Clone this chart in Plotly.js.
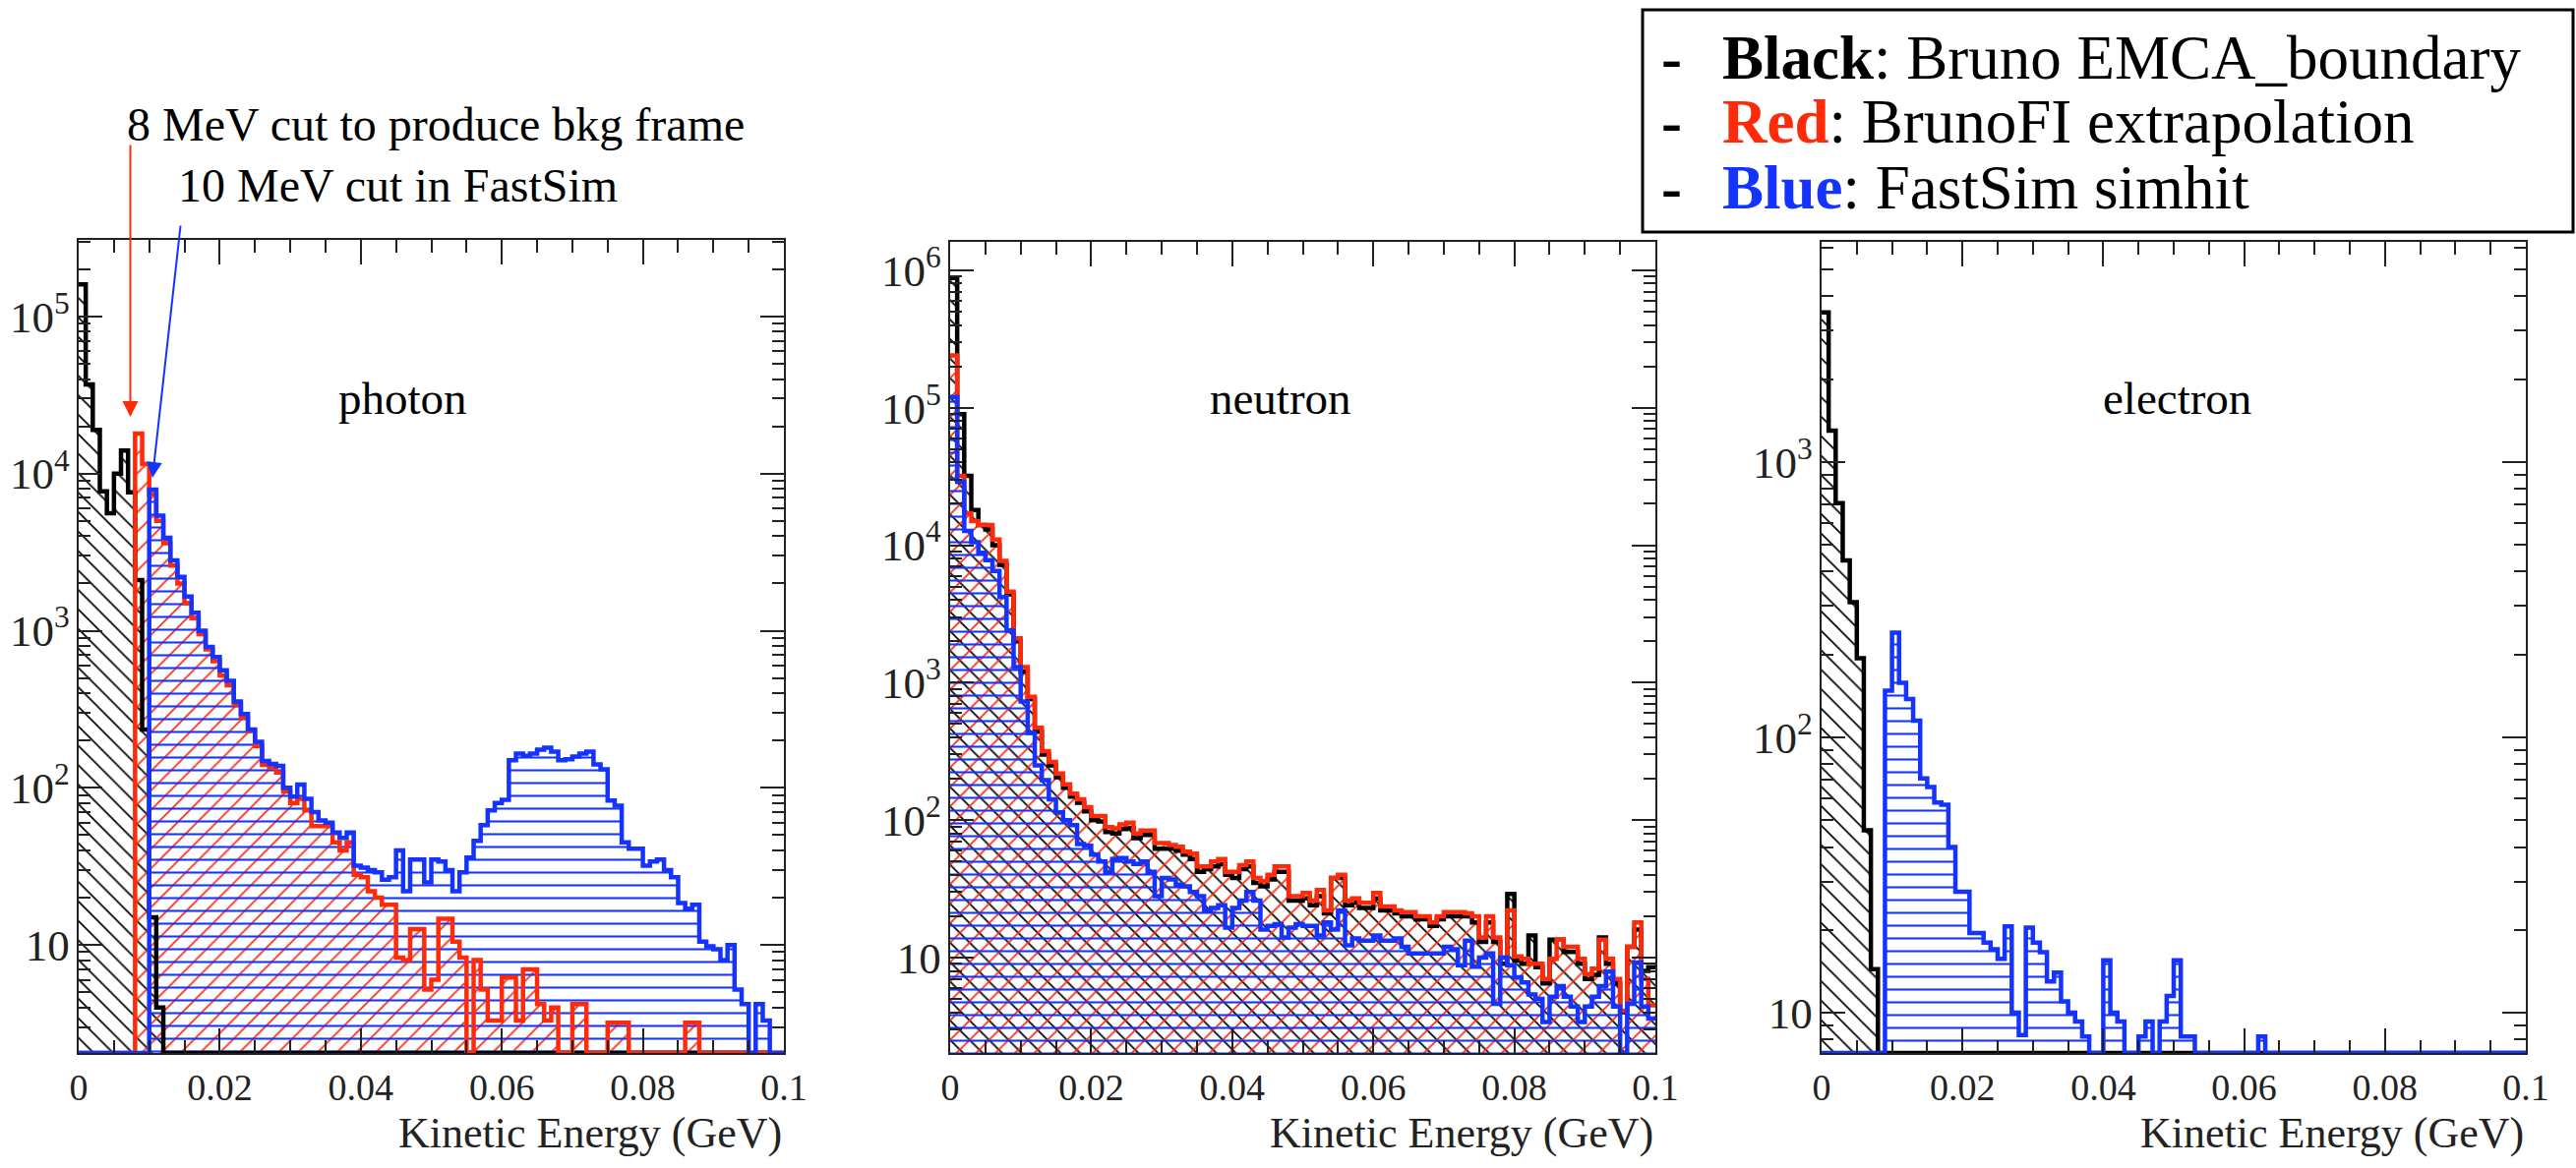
<!DOCTYPE html>
<html><head><meta charset="utf-8">
<script src="https://cdn.plot.ly/plotly-3.0.1.min.js"></script>
<style>html,body{margin:0;padding:0;background:#fff}#chart{width:2619px;height:1188px}</style>
</head><body><div id="chart"></div>
<script>
// ---- histogram binning (100 bins of 1 MeV from 0 to 0.1 GeV) ----
const nBins = 100;
const binWidth = 0.001;
const xTickVals = [0, 0.02, 0.04, 0.06, 0.08, 0.1];
const panelNames = ['photon', 'neutron', 'electron'];
const xTitle = 'Kinetic Energy (GeV)';
const legendLines = [
  {key: 'Black', rest: ': Bruno EMCA_boundary'},
  {key: 'Red', rest: ': BrunoFI extrapolation'},
  {key: 'Blue', rest: ': FastSim simhit'}
];
const cutNotes = ['8 MeV cut to produce bkg frame', '10 MeV cut in FastSim'];

// ---- photon ----
const photonBlack = [
  160000,37000,19000,7700,5600,10000,14000,7600,2100,235,
  15,4,0,0,0,0,0,0,0,0,
  0,0,0,0,0,0,0,0,0,0,
  0,0,0,0,0,0,0,0,0,0,
  0,0,0,0,0,0,0,0,0,0,
  0,0,0,0,0,0,0,0,0,0,
  0,0,0,0,0,0,0,0,0,0,
  0,0,0,0,0,0,0,0,0,0,
  0,0,0,0,0,0,0,0,0,0,
  0,0,0,0,0,0,0,0,0,0];
const photonRed = [
  0,0,0,0,0,0,0,0,18000,11500,
  7400,5000,3600,2600,2000,1500,1200,950,760,640,
  520,450,340,280,230,185,140,135,125,95,
  80,85,72,57,57,57,45,40,45,28,
  27,22,20,18,18,8.3,8,12.6,12.6,5.2,
  6,14.7,14.7,10.5,8.3,0,8,5.2,3.3,3.3,
  6.2,6.2,3.3,7,7,4.2,3.3,4,0,0,
  4.2,4.2,0,0,0,3.2,3.2,3.2,0,0,
  0,0,0,0,0,0,3.2,3.2,0,0,
  0,0,0,0,0,0,0,0,0,0];
const photonBlue = [
  0,0,0,0,0,0,0,0,0,0,
  7900,5400,3900,2800,2200,1650,1300,1000,790,680,
  560,480,355,295,235,196,148,142,138,100,
  88,105,85,70,62,60,52,48,52,32,
  31,30,29,26,27,40,22,35,35,25,
  35,34,30,22,29,36,46,58,72,80,
  84,150,165,160,165,175,180,170,150,152,
  158,165,170,141,131,83,77,45,41,41,
  32,34,35,30,27,18.5,17,18,10.5,9.8,
  9.4,8,10,5.2,4.2,0,4.2,3.3,0,0];

// ---- neutron ----
const neutronBlack = [
  880000,90000,32000,18000,14000,13000,10000,7200,4400,2000,
  1200,760,440,300,250,205,172,148,134,116,
  100,98,82,80,86,88,74,78,78,62,
  62,62,60,56,52,42,44,46,48,40,
  38,44,46,35,33,37,42,42,26,26,
  27,24,28,21,38,38,24,25,23,23,
  27,22,22,21,20,20,19,19,17,19,
  20,20,20,20,18,13,18,13,9,29,
  9.5,9,14.5,8.5,6.5,13.5,13.5,11,11,9,
  7,7.5,14,9,6.5,4,12,16,8,8.5];
const neutronRed = [
  240000,32000,17000,15000,14000,14000,11000,7700,4600,2100,
  1300,790,470,318,265,218,182,156,142,124,
  107,107,89,87,93,96,80,84,84,68,
  68,66,64,59,57,46,46,50,52,42,
  42,47,50,38,36,40,46,46,28,28,
  29.5,26,31,22,38,40,26,27,25,25,
  29.5,23.5,23.5,22,21.4,21.4,20,20,18,20,
  21.4,21.4,21.4,21,20,14,20,14,10,22,
  10.2,9.8,9,9,7,9.8,13.5,12,12,9.8,
  7.6,8.3,13.5,9.8,7,4.1,12,18,7,4.5];
const neutronBlue = [
  120000,29000,12700,10500,8800,7800,6500,4200,2400,1300,
  730,430,250,195,142,114,100,92,67,65,
  56,50,42,52,53,50,48,50,42,28,
  38,37,34,33,30,28,22,23,24,16.5,
  23,26,30,26,16,17,17.5,14,16.5,17.5,
  17,17,14.5,18,16,22,12.3,13.8,13.3,13.3,
  14.5,13.3,13.3,13.8,12,10.7,10.7,10.7,10.7,10.7,
  12,11.5,8.8,13.3,8.6,10,10.7,4.6,10,8.8,
  7.2,6.6,5.4,5,3.4,5.2,6.2,5.2,4.4,3.4,
  4.4,5.2,6.2,7.9,4.4,0,4.6,9.2,4.4,3.6];

// ---- electron ----
const electronBlack = [
  3500,1300,710,440,310,194,46,14.4,0,0,
  0,0,0,0,0,0,0,0,0,0,
  0,0,0,0,0,0,0,0,0,0,
  0,0,0,0,0,0,0,0,0,0,
  0,0,0,0,0,0,0,0,0,0,
  0,0,0,0,0,0,0,0,0,0,
  0,0,0,0,0,0,0,0,0,0,
  0,0,0,0,0,0,0,0,0,0,
  0,0,0,0,0,0,0,0,0,0,
  0,0,0,0,0,0,0,0,0,0];
const electronBlue = [
  0,0,0,0,0,0,0,0,0,148,
  240,158,138,115,71,66,58,57,40,27.5,
  27.5,19.5,19.5,18,17,15.7,20.6,10,8.3,20.4,
  18,16.6,13,14,11,10,9.3,8.2,0,0,
  15.5,10,9.3,0,0,8.2,9.3,0,9.3,11.5,
  15.5,8.2,8.2,0,0,0,0,0,0,0,
  0,0,8.2,0,0,0,0,0,0,0,
  0,0,0,0,0,0,0,0,0,0,
  0,0,0,0,0,0,0,0,0,0,
  0,0,0,0,0,0,0,0,0,0];

// ---- styling ----
const W = 2619, H = 1188;
const BLACK = '#000000', RED = '#ff2a0a', BLUE = '#1433ff';
const serif = '"Liberation Serif", "Times New Roman", Times, serif';
const styles = [
  {color: BLACK, shape: '\\', size: 14, solidity: 0.12},
  {color: RED, shape: '/', size: 14, solidity: 0.12},
  {color: BLUE, shape: '-', size: 13, solidity: 0.16}
];
// panel frames in pixels: [left, right, top, bottom]
const frames = [[80, 797, 244, 1071], [966, 1683, 246, 1071], [1852, 2568, 246, 1071]];
const yRanges = [[0.3125, 5.4875], [0.306, 6.207], [0.854, 3.80]];
const panelSeries = [
  [photonBlack, photonRed, photonBlue],
  [neutronBlack, neutronRed, neutronBlue],
  [electronBlack, null, electronBlue]
];

const centers = Array.from({length: nBins}, (_, i) => (i + 0.5) * binWidth);
const edges = Array.from({length: nBins + 1}, (_, i) => i * binWidth);

const traces = [];
panelSeries.forEach((series, p) => {
  const xa = p === 0 ? 'x' : 'x' + (p + 1);
  const ya = p === 0 ? 'y' : 'y' + (p + 1);
  series.forEach((vals, s) => {
    if (!vals) return;
    const st = styles[s];
    traces.push({
      type: 'bar', x: centers, y: vals.map(v => v > 0 ? v : null), width: binWidth,
      xaxis: xa, yaxis: ya, hoverinfo: 'skip', showlegend: false,
      marker: {color: 'rgba(0,0,0,0)', line: {width: 0},
        pattern: {shape: st.shape, fgcolor: st.color, bgcolor: 'rgba(0,0,0,0)', size: st.size, solidity: st.solidity, fillmode: 'replace'}}
    });
  });
});
panelSeries.forEach((series, p) => {
  const xa = p === 0 ? 'x' : 'x' + (p + 1);
  const ya = p === 0 ? 'y' : 'y' + (p + 1);
  const floorVal = Math.pow(10, yRanges[p][0]);
  series.forEach((vals, s) => {
    if (!vals) return;
    const st = styles[s];
    const yy = vals.map(v => v > 0 ? v : floorVal);
    yy.push(yy[yy.length - 1]);
    traces.push({
      type: 'scatter', mode: 'lines', x: edges, y: yy, xaxis: xa, yaxis: ya,
      line: {shape: 'hv', color: st.color, width: 4.5}, hoverinfo: 'skip', showlegend: false
    });
  });
});

const layout = {
  width: W, height: H, margin: {l: 0, r: 0, t: 0, b: 0},
  paper_bgcolor: '#fff', plot_bgcolor: '#fff', barmode: 'overlay', bargap: 0,
  showlegend: false, font: {family: serif, color: '#222'},
  annotations: [], shapes: []
};

frames.forEach((f, p) => {
  const sfx = p === 0 ? '' : String(p + 1);
  const yname = p === 0 ? 'y' : 'y' + (p + 1);
  const xname = p === 0 ? 'x' : 'x' + (p + 1);
  layout['xaxis' + sfx] = {
    domain: [f[0] / W, f[1] / W], anchor: yname, range: [0, 0.1],
    tickvals: xTickVals, ticktext: xTickVals.map(v => String(v)),
    showline: true, mirror: 'allticks', linecolor: '#222', linewidth: 2,
    ticks: 'inside', ticklen: 25, tickwidth: 2, tickcolor: '#222',
    minor: {ticks: 'inside', dtick: 0.005, tick0: 0, ticklen: 13, tickwidth: 2, tickcolor: '#222', showgrid: false},
    showgrid: false, zeroline: false, fixedrange: true,
    tickfont: {family: serif, size: 38, color: '#222'}
  };
  layout['yaxis' + sfx] = {
    domain: [1 - f[3] / H, 1 - f[2] / H], anchor: xname, type: 'log', range: yRanges[p],
    dtick: 1, exponentformat: 'power',
    showline: true, mirror: 'allticks', linecolor: '#222', linewidth: 2,
    ticks: 'inside', ticklen: 24, tickwidth: 2, tickcolor: '#222',
    minor: {ticks: 'inside', dtick: 'D1', ticklen: 12, tickwidth: 2, tickcolor: '#222', showgrid: false},
    showgrid: false, zeroline: false, fixedrange: true,
    tickfont: {family: serif, size: 36, color: '#222'}
  };
  layout.annotations.push({
    xref: 'paper', yref: 'paper', x: [409, 1302, 2213][p] / W, y: 1 - 405 / H,
    text: panelNames[p], showarrow: false, xanchor: 'center', yanchor: 'middle',
    font: {family: serif, size: 47, color: '#000'}
  });
  layout.annotations.push({
    xref: 'paper', yref: 'paper', x: f[1] / W, y: 1 - 1152 / H,
    text: xTitle, showarrow: false, xanchor: 'right', yanchor: 'middle',
    font: {family: serif, size: 44, color: '#222'}
  });
});

layout.annotations.push({
  xref: 'paper', yref: 'paper', x: 127 / W, y: 1 - 126 / H, text: cutNotes[0],
  showarrow: false, xanchor: 'left', yanchor: 'middle', font: {family: serif, size: 48, color: '#000'}
});
layout.annotations.push({
  xref: 'paper', yref: 'paper', x: 179 / W, y: 1 - 189 / H, text: cutNotes[1],
  showarrow: false, xanchor: 'left', yanchor: 'middle', font: {family: serif, size: 48, color: '#000'}
});
layout.annotations.push({
  xref: 'paper', yref: 'paper', x: 132.5 / W, y: 1 - 424 / H, text: '',
  showarrow: true, ax: 0, ay: -278, arrowhead: 2, arrowsize: 1.6, arrowwidth: 2, arrowcolor: RED
});
layout.annotations.push({
  xref: 'paper', yref: 'paper', x: 155 / W, y: 1 - 486 / H, text: '',
  showarrow: true, ax: 28.7, ay: -258, arrowhead: 2, arrowsize: 1.6, arrowwidth: 2, arrowcolor: BLUE
});

layout.shapes.push({type: 'rect', xref: 'paper', yref: 'paper',
  x0: 1670 / W, x1: 2616 / W, y0: 1 - 236 / H, y1: 1 - 10 / H,
  line: {color: '#000', width: 3}, fillcolor: 'rgba(255,255,255,0)'});
const keyColors = [BLACK, RED, BLUE];
const lineCenters = [59, 124, 191];
legendLines.forEach((ln, i) => {
  layout.annotations.push({
    xref: 'paper', yref: 'paper', x: 1687 / W, y: 1 - lineCenters[i] / H, text: '<b>-</b>',
    showarrow: false, xanchor: 'left', yanchor: 'middle', font: {family: serif, size: 63, color: '#000'}
  });
  layout.annotations.push({
    xref: 'paper', yref: 'paper', x: 1749 / W, y: 1 - lineCenters[i] / H,
    text: '<span style="color:' + keyColors[i] + '"><b>' + ln.key + '</b></span>' + ln.rest,
    showarrow: false, xanchor: 'left', yanchor: 'middle', font: {family: serif, size: 63, color: '#000'}
  });
});

Plotly.newPlot('chart', traces, layout, {staticPlot: true, displayModeBar: false});
</script>
</body></html>
